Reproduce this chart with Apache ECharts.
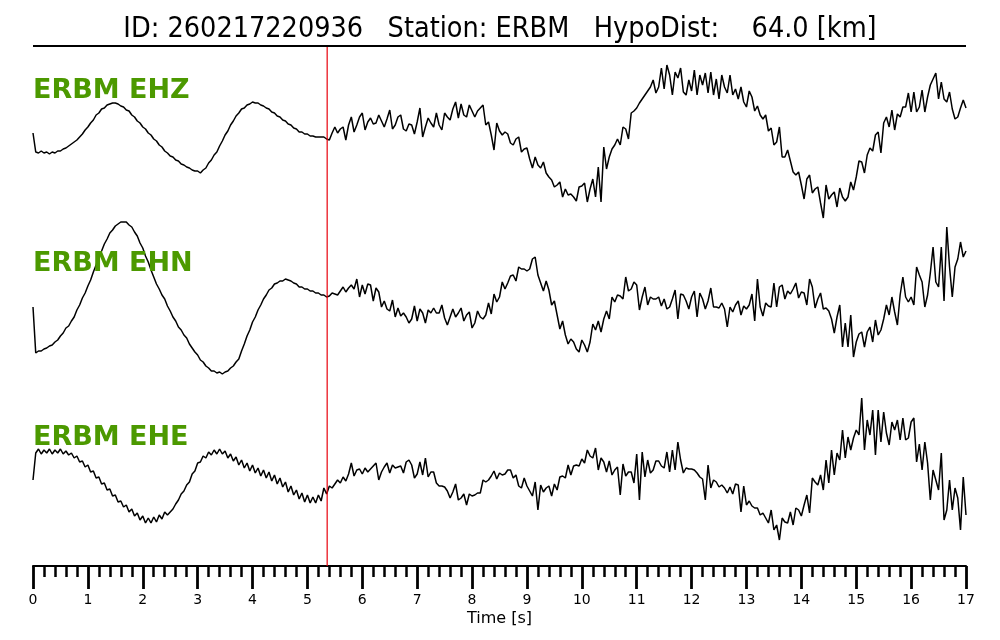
<!DOCTYPE html>
<html><head><meta charset="utf-8">
<script src="https://cdn.jsdelivr.net/npm/echarts@6/dist/echarts.min.js"></script>
<style>html,body{margin:0;padding:0;background:#fff}#c{width:1000px;height:640px}</style>
</head><body><div id="c"></div>
<script>
const titleText = 'ID: 260217220936   Station: ERBM   HypoDist:    64.0 [km]';
const channels = ['ERBM EHZ', 'ERBM EHN', 'ERBM EHE'];
const sampleInterval = 0.05; // s
const pickTime = 5.36;       // s
const timeTicks = [0,1,2,3,4,5,6,7,8,9,10,11,12,13,14,15,16,17];

const ehz = [
 4,-15,-16,-14,-16,-15,-17,-15,-16,-14,
 -14,-12,-11,-9,-7,-5,-3,0,3,7,
 10,14,17,22,24,28,29,32,33,34,
 34,33,31,30,27,26,22,20,16,14,
 10,8,4,2,-2,-4,-8,-10,-14,-16,
 -19,-20,-23,-24,-27,-28,-30,-31,-33,-34,
 -34,-36,-33,-31,-26,-23,-18,-15,-9,-4,
 2,6,12,16,21,24,28,29,32,33,
 35,34,34,32,31,29,28,25,24,21,
 20,17,16,13,12,9,8,5,5,3,
 3,1,1,0,0,0,0,-2,
 -3,4,10,4,8,10,-3,12,20,5,
 12,20,24,7,15,19,13,14,22,16,
 10,18,27,8,12,20,22,8,6,13,
 12,3,15,29,0,10,19,14,10,24,
 12,7,24,20,17,28,35,19,33,22,
 20,32,26,20,26,29,32,12,15,2,
 -13,14,6,2,5,3,-6,-8,-2,0,
 -15,-12,-11,-22,-31,-20,-28,-31,-25,-36,
 -40,-43,-50,-48,-45,-60,-52,-58,-57,-60,
 -64,-50,-49,-46,-65,-52,-42,-60,-30,-65,
 -10,-32,-20,-12,-8,-2,-8,10,8,-2,
 24,26,29,
 34,38,42,46,50,57,44,50,69,48,
 72,62,42,65,59,69,45,42,57,46,
 67,42,62,52,64,44,65,42,58,38,
 62,50,44,62,42,48,38,50,35,30,
 46,40,26,31,22,18,22,6,9,-8,
 -5,10,-20,-20,-13,-24,-35,-38,-35,-48,
 -62,-42,-38,-56,-52,-50,-66,-81,-48,-62,
 -58,-55,-70,-51,-60,-64,-60,-45,-53,-40,
 -24,-25,-36,-18,-11,-14,2,5,-16,14,
 20,10,27,7,23,20,30,30,44,25,
 45,25,30,47,25,40,52,58,64,38,
 55,38,35,45,28,18,20,29,37,29
];

const ehn = [
 -10,-56,-54,-54,-52,-51,-49,-48,-45,-43,
 -39,-36,-31,-29,-24,-20,-13,-8,-1,4,
 11,17,25,32,40,46,53,58,64,67,
 71,73,75,75,75,72,70,65,61,54,
 49,41,35,27,20,13,8,2,-2,-9,
 -14,-20,-24,-30,-33,-38,-41,-47,-51,-55,
 -58,-63,-65,-69,-71,-74,-74,-76,-75,-77,
 -75,-74,-71,-69,-65,-62,-54,-47,-39,-33,
 -25,-20,-13,-8,-2,2,7,9,13,14,
 16,16,18,17,16,14,13,10,10,8,
 8,6,6,4,4,2,2,0,
 1,4,3,2,6,10,5,9,12,8,
 18,0,12,3,13,12,-4,9,5,-10,
 -4,-12,-14,-3,-20,-11,-19,-16,-20,-26,
 -22,-9,-24,-12,-16,-26,-13,-16,-11,-16,
 -16,-8,-21,-28,-20,-12,-20,-16,-11,-24,
 -18,-15,-31,-26,-14,-20,-22,-18,-6,-17,
 3,-5,0,15,8,14,21,22,16,30,
 28,28,26,28,38,40,22,14,6,16,
 7,-8,-4,-18,-32,-24,-38,-47,-42,-45,
 -52,-55,-43,-48,-55,-45,-27,-33,-24,-35,
 -22,-14,-22,0,-5,2,1,-2,20,6,
 8,15,12,
 -13,0,10,-8,0,-2,-2,0,-9,-2,
 -12,-10,-2,7,-22,3,2,-4,-12,0,
 6,-20,4,-2,-12,-4,9,-10,-10,-11,
 -6,-12,-30,-10,-15,-8,-4,-18,-9,-12,
 -8,3,-24,18,-10,-19,-6,-9,-10,14,
 -10,10,12,-2,6,3,8,14,-1,5,
 4,-8,18,10,-11,-2,4,-12,-11,-14,
 -22,-36,-20,-8,-50,-26,-50,-18,-60,-45,
 -37,-35,-50,-35,-30,-45,-23,-38,-33,-22,
 -8,-18,0,-15,-28,2,20,0,-5,0,
 -8,30,22,15,-10,2,24,50,15,10,
 50,-4,70,30,0,30,38,55,40,46
];

const ehe = [
 0,27,31,26,30,27,31,26,30,27,
 31,26,29,25,27,22,24,18,19,13,
 15,8,9,2,3,-4,-3,-10,-9,-16,
 -15,-22,-21,-27,-25,-32,-29,-36,-33,-40,
 -36,-43,-38,-43,-37,-42,-35,-39,-32,-35,
 -32,-29,-24,-20,-14,-11,-5,-2,6,9,
 17,18,24,22,28,25,30,26,31,26,
 29,22,26,19,23,15,20,12,17,9,
 15,7,12,4,10,2,8,-1,5,-4,
 2,-7,-2,-12,-6,-15,-10,-19,-13,-22,
 -15,-23,-17,-23,-15,-21,-8,-14,
 -6,-8,-4,0,-3,3,-1,6,17,4,
 10,11,6,12,8,11,14,17,0,8,
 13,17,7,15,12,13,14,7,18,20,
 15,2,6,18,5,22,3,8,8,-3,
 -6,-6,-7,-11,-18,-12,-4,-20,-18,-14,
 -25,-14,-16,-15,-13,-13,0,-2,0,4,
 9,1,7,5,6,10,10,2,5,-6,
 -8,2,-6,-11,-16,-2,-30,-5,-12,-8,
 -6,-16,-4,-10,3,4,2,15,5,14,
 15,14,21,17,30,24,22,32,10,22,
 18,8,19,5,10,13,-15,16,4,8,
 8,-3,26,
 -20,28,3,20,7,10,19,19,14,12,
 28,8,30,10,38,20,7,12,11,11,
 10,7,3,1,-20,15,-8,0,-2,-7,
 -5,-8,-13,-7,-14,-4,-5,-32,-6,-25,
 -21,-26,-28,-28,-35,-33,-38,-43,-30,-50,
 -45,-60,-38,-42,-43,-32,-45,-28,-30,-36,
 -25,-15,-33,2,-2,-5,5,-10,20,-3,
 30,5,27,20,50,22,43,30,42,50,
 45,82,30,60,45,70,25,70,38,68,
 47,35,58,50,60,40,62,40,42,58,
 62,18,36,10,38,17,-20,10,0,-10,
 27,-40,-30,0,-30,-8,-18,-50,3,-35
];

const traces = [ehz, ehn, ehe];
const chart = echarts.init(document.getElementById('c'), null, {renderer: 'canvas'});
const FONT = 'DejaVu Sans';
const L = 33, R = 34;
const traceTops = [47, 207, 390];
const labelY = [91, 264, 438];

const grids = traceTops.map(t => ({left: L, right: R, top: t, height: 180}));
grids.push({left: L, right: R, top: 565, height: 1});   // time axis
grids.push({left: L, right: R, top: 47, height: 519});  // pick overlay

const xAxes = [], yAxes = [], series = [];
traces.forEach((tr, i) => {
  xAxes.push({type: 'value', gridIndex: i, min: 0, max: 17, show: false});
  yAxes.push({type: 'value', gridIndex: i, min: -90, max: 90, show: false});
  series.push({
    type: 'line', xAxisIndex: i, yAxisIndex: i,
    data: tr.map((v, k) => [k * sampleInterval, v]),
    showSymbol: false, symbol: 'none', clip: false,
    lineStyle: {color: '#000', width: 1.5}, z: 2, animation: false
  });
});
xAxes.push({
  type: 'value', gridIndex: 3, min: timeTicks[0], max: timeTicks[timeTicks.length-1], interval: 1,
  position: 'bottom',
  axisLine: {show: true, lineStyle: {color: '#000', width: 2}},
  axisTick: {show: true, inside: false, length: 23, lineStyle: {color: '#000', width: 2.8}},
  minorTick: {show: true, splitNumber: 5, length: 11, lineStyle: {color: '#000', width: 2.5}},
  splitLine: {show: false},
  axisLabel: {color: '#000', fontSize: 14, fontFamily: FONT, margin: 27},
  name: 'Time [s]', nameLocation: 'middle', nameGap: 45,
  nameTextStyle: {color: '#000', fontSize: 16, fontFamily: FONT}
});
yAxes.push({type: 'value', gridIndex: 3, show: false});
xAxes.push({type: 'value', gridIndex: 4, min: 0, max: 17, show: false});
yAxes.push({type: 'value', gridIndex: 4, min: 0, max: 1, show: false});
series.push({
  type: 'line', xAxisIndex: 4, yAxisIndex: 4,
  data: [[pickTime, 0], [pickTime, 1]],
  showSymbol: false, symbol: 'none',
  lineStyle: {color: '#e8000b', width: 1.2}, z: 5, animation: false
});

const graphics = [
  {type: 'line', shape: {x1: L, y1: 46, x2: 1000 - R, y2: 46}, style: {stroke: '#000', lineWidth: 2}, z: 10}
];
channels.forEach((c, i) => {
  graphics.push({type: 'text', x: L, y: labelY[i], z: 10,
    style: {text: c, fill: '#4c9900', fontSize: 27, fontWeight: 'bold', fontFamily: FONT, verticalAlign: 'middle'}});
});

chart.setOption({
  animation: false,
  backgroundColor: '#fff',
  title: {text: titleText, left: 'center', top: 10,
    textStyle: {color: '#000', fontSize: 28.5, fontWeight: 'normal', fontFamily: "'DejaVu Sans Condensed', 'DejaVu Sans'"}},
  grid: grids, xAxis: xAxes, yAxis: yAxes, series: series, graphic: graphics
});
</script></body></html>
